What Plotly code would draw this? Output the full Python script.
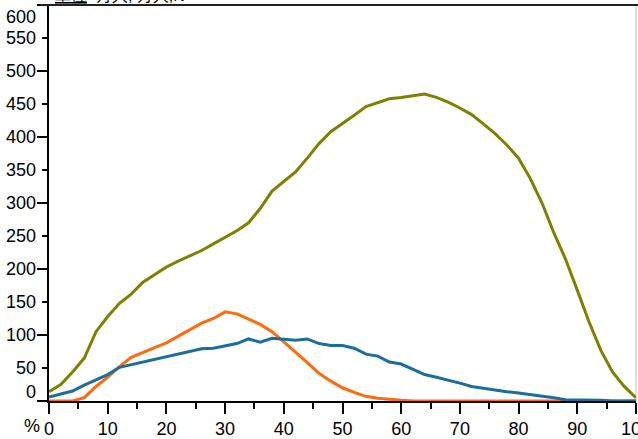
import plotly.graph_objects as go

x_pct = list(range(0, 101, 2))

olive_vals = [14, 25, 44, 65, 105, 128, 148, 162, 180, 192,
              203, 212, 220, 228, 238, 248, 258, 270, 292, 318,
              332, 347, 368, 390, 408, 420, 433, 446, 452, 458,
              460, 462, 465, 460, 453, 444, 434, 420, 405, 388,
              368, 337, 300, 255, 215, 168, 120, 77, 44, 22, 5]

orange_vals = [0, 0, 0, 5, 22, 36, 52, 66, 74, 81,
               88, 98, 108, 118, 125, 135, 132, 124, 116, 105,
               90, 74, 58, 42, 30, 20, 13, 7, 4, 2,
               1, 0, 0, 0, 0, 0, 0, 0, 0, 0,
               0, 0, 0, 0, 0, 0, 0, 0, 0, 0, 0]

blue_vals = [6, 10, 15, 24, 32, 40, 51, 55, 59, 63,
             67, 72, 76, 79, 80, 84, 87, 94, 89, 95,
             94, 92, 94, 87, 84, 84, 80, 71, 68, 59,
             56, 48, 40, 36, 32, 27, 22, 19, 16, 14,
             12, 10, 8, 5, 2, 2, 1, 1, 0, 0, 0]

y_labels = [0, 50, 100, 150, 200, 250, 300, 350, 400, 450, 500, 550, 600]
x_ticks = [0, 10, 20, 30, 40, 50, 60, 70, 80, 90, 100]

FONT = "Liberation Sans, Arial, sans-serif"

fig = go.Figure()
fig.add_trace(go.Scatter(x=x_pct, y=olive_vals, mode="lines",
                         line=dict(color="#808000", width=3), showlegend=False))
fig.add_trace(go.Scatter(x=x_pct, y=orange_vals, mode="lines",
                         line=dict(color="#ff6a0e", width=3), showlegend=False))
fig.add_trace(go.Scatter(x=x_pct, y=blue_vals, mode="lines",
                         line=dict(color="#1a6d9d", width=3), showlegend=False))

fig.update_layout(
    width=638, height=439,
    margin=dict(l=49, r=2, t=5, b=38),
    plot_bgcolor="white", paper_bgcolor="white",
    font=dict(family=FONT, size=18, color="black"),
    xaxis=dict(range=[-0.01, 100.01], showgrid=False, zeroline=False,
               automargin=False,
               showline=True, linecolor="black", linewidth=1.6,
               ticks="outside", ticklen=11, tickwidth=1.6, tickcolor="black",
               tickvals=x_ticks, ticktext=[str(v) for v in x_ticks],
               tickfont=dict(size=18), ticklabeloverflow="allow",
               minor=dict(ticks="outside", ticklen=6, dtick=5, tickwidth=1.6,
                          tickcolor="black")),
    yaxis=dict(range=[-0.05, 600.05], showgrid=False, zeroline=False,
               automargin=False,
               showline=True, linecolor="black", linewidth=1.6,
               ticks="outside", ticklen=10, tickwidth=1.6, tickcolor="black",
               dtick=100, showticklabels=False,
               minor=dict(ticks="outside", ticklen=5, dtick=50, tickwidth=1.6,
                          tickcolor="black")),
)

annotations = []
for v in y_labels:
    shift = 0
    if v == 0:
        shift = 9
    elif v == 600:
        shift = -12
    annotations.append(dict(x=0, xref="paper", y=v, yref="y", text=str(v),
                            showarrow=False, xanchor="right", yanchor="middle",
                            xshift=-11, yshift=shift, font=dict(size=18)))
annotations.append(dict(x=0, xref="paper", y=0, yref="paper", text="%",
                        showarrow=False, xanchor="right", yanchor="top",
                        xshift=-7, yshift=-13, font=dict(size=18)))
annotations.append(dict(x=0, xref="paper", y=1, yref="paper",
                        text="<u>単位</u>  万人, 万人,N",
                        showarrow=False, xanchor="left", yanchor="bottom",
                        xshift=4, yshift=-1, font=dict(size=16)))
fig.update_layout(annotations=annotations)

# top border line (extends left over the 600 tick)
fig.add_shape(type="line", xref="paper", yref="paper", x0=-9 / 587, x1=1.01,
              y0=1, y1=1, line=dict(color="#222222", width=2))
fig.add_shape(type="line", xref="paper", yref="paper", x0=1, x1=1, y0=0, y1=1,
              line=dict(color="#e0e0e0", width=2), layer="below")

fig.write_html("out.html",
               config={"displayModeBar": False},
               post_script="document.body.style.margin='0';document.body.style.overflow='hidden';")
